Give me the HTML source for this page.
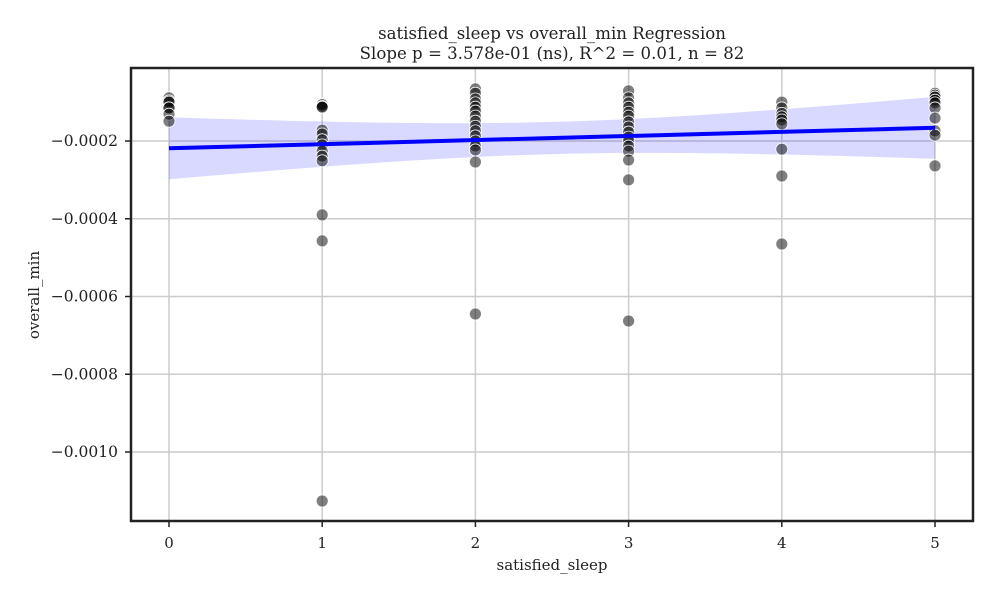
<!DOCTYPE html>
<html><head><meta charset="utf-8"><style>
body{margin:0;background:#fff}
svg{display:block;font-family:"DejaVu Serif","Liberation Serif",serif}
</style></head><body>
<svg id="chart" width="1000" height="600">
<text x="552" y="39" text-anchor="middle" font-size="16.6" fill="#222">satisfied_sleep vs overall_min Regression</text>
<text x="552" y="59" text-anchor="middle" font-size="16.6" fill="#222">Slope p = 3.578e-01 (ns), R^2 = 0.01, n = 82</text>
<g id="grid"></g><g id="band"></g><g id="pts"></g><g id="line"></g><g id="ticks"></g>
<rect x="131" y="68" width="842" height="453" fill="none" stroke="#222" stroke-width="2.5"/>
<text x="552" y="570" text-anchor="middle" font-size="15" fill="#222">satisfied_sleep</text>
<text transform="translate(39,295) rotate(-90)" text-anchor="middle" font-size="15" fill="#222">overall_min</text>
</svg>
<script>
const xTicks=[0,1,2,3,4,5];
const yTicks=[-0.0010,-0.0008,-0.0006,-0.0004,-0.0002];
const yTickLabels=["\u22120.0010","\u22120.0008","\u22120.0006","\u22120.0004","\u22120.0002"];
const xs0=[-0.000089,-0.000097,-0.000100,-0.000115,-0.000115,-0.000131,-0.000149];
const xs1=[-0.000105,-0.000107,-0.000111,-0.000113,-0.000172,-0.000182,-0.000197,-0.000210,-0.000226,-0.000239,-0.000251,-0.000390,-0.000457,-0.001126];
const xs2=[-0.000066,-0.000077,-0.000092,-0.000102,-0.000113,-0.000123,-0.000136,-0.000149,-0.000162,-0.000174,-0.000187,-0.000200,-0.000213,-0.000223,-0.000254,-0.000645];
const xs3=[-0.000071,-0.000089,-0.000102,-0.000113,-0.000126,-0.000136,-0.000151,-0.000164,-0.000177,-0.000190,-0.000200,-0.000213,-0.000226,-0.000249,-0.000300,-0.000663];
const xs4=[-0.000100,-0.000115,-0.000129,-0.000138,-0.000146,-0.000156,-0.000221,-0.000290,-0.000465];
const xs5=[-0.000077,-0.000082,-0.000087,-0.000095,-0.000102,-0.000115,-0.000141,-0.000174,-0.000185,-0.000264];
const groups=[xs0,xs1,xs2,xs3,xs4,xs5];
const NS="http://www.w3.org/2000/svg";
const X=v=>169+v*153.2;
const Y=v=>63.25-v*388750;
function mk(tag,attrs,parent){const e=document.createElementNS(NS,tag);for(const k in attrs)e.setAttribute(k,attrs[k]);parent.appendChild(e);return e;}
const grid=document.getElementById('grid'),ticks=document.getElementById('ticks');
xTicks.forEach(t=>{
 const l=mk('line',{x1:X(t),x2:X(t),y1:68,y2:521,stroke:'#ccc','stroke-width':1.5},grid);
 
 
 mk('line',{x1:X(t),x2:X(t),y1:521,y2:527,stroke:'#222','stroke-width':1.5},ticks);
 const tx=mk('text',{x:X(t),y:548,'text-anchor':'middle','font-size':15,fill:'#222'},ticks);
 tx.textContent=t;
 
 
});
yTicks.forEach((t,i)=>{
 const l=mk('line',{x1:131,x2:973,y1:Y(t),y2:Y(t),stroke:'#ccc','stroke-width':1.5},grid);
 
 
 mk('line',{x1:125,x2:131,y1:Y(t),y2:Y(t),stroke:'#222','stroke-width':1.5},ticks);
 const tx=mk('text',{x:118,y:Y(t)+5,'text-anchor':'end','font-size':15.5,fill:'#222'},ticks);
 tx.textContent=yTickLabels[i];
 
 
});
let px=[],py=[];
groups.forEach((g,i)=>g.forEach(v=>{px.push(i);py.push(v);}));
const n=px.length,mx=px.reduce((a,b)=>a+b)/n,my=py.reduce((a,b)=>a+b)/n;
let sxx=0,sxy=0;px.forEach((x,i)=>{sxx+=(x-mx)**2;sxy+=(x-mx)*(py[i]-my);});
const b=sxy/sxx,a=my-b*mx;
let sse=0;px.forEach((x,i)=>{sse+=(py[i]-a-b*x)**2;});
const s=Math.sqrt(sse/(n-2));
let up=[],lo=[];
for(let k=0;k<=50;k++){const x=k*5/50;const se=s*Math.sqrt(1/n+(x-mx)**2/sxx)*2.2;const yv=a+b*x;up.push(X(x)+','+Y(yv+se));lo.unshift(X(x)+','+Y(yv-se));}
const band=mk('polygon',{points:up.concat(lo).join(' '),fill:'#0000ff',opacity:0.15},document.getElementById('band'));


const pts=document.getElementById('pts');
groups.forEach((g,i)=>g.forEach(v=>{
 const c=mk('circle',{cx:X(i),cy:Y(v),r:6,fill:'rgba(0,0,0,0.5)',stroke:'#fff','stroke-width':0.8},pts);
 
 
}));
const rl=mk('line',{x1:X(0),y1:Y(a),x2:X(5),y2:Y(a+5*b),stroke:'#0000ff','stroke-width':4},document.getElementById('line'));


</script>
</body></html>
